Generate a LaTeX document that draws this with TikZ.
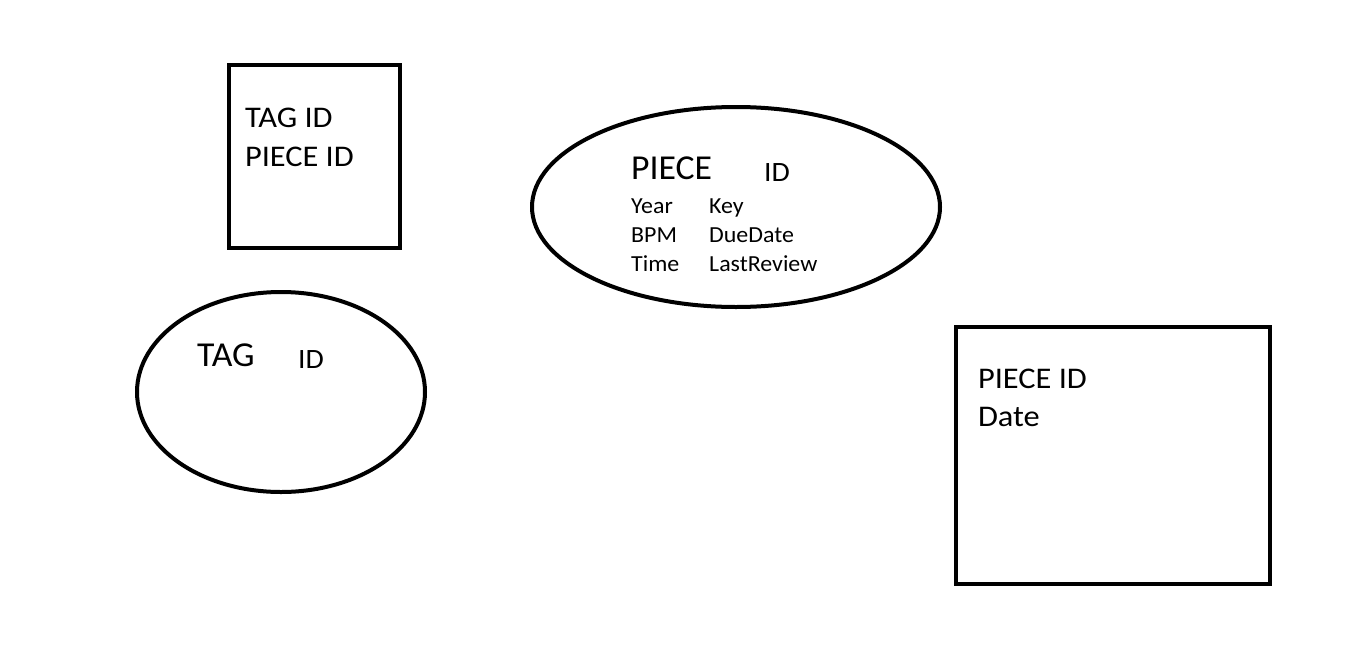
\documentclass[tikz,border=0pt]{standalone}
\usepackage{fontspec}
\setmainfont{Carlito}
\newfontfamily\fA[FakeStretch=1.08]{Carlito}
\newfontfamily\fB[FakeStretch=1.02]{Carlito}
\newfontfamily\fC[FakeStretch=1.06]{Carlito}
\newfontfamily\fD[FakeStretch=1.04]{Carlito}
\begin{document}
\begin{tikzpicture}[x=1pt,y=-1pt,
  shapeline/.style={line width=4pt,draw=black},
  txt/.style={anchor=base west,inner sep=0pt,outer sep=0pt,font=\fA\fontsize{30}{39}\selectfont},
  bigtxt/.style={anchor=base west,inner sep=0pt,font=\fB\fontsize{35}{40}\selectfont},
  midtxt/.style={anchor=base west,inner sep=0pt,font=\fC\fontsize{28}{32}\selectfont},
  smalltxt/.style={anchor=base west,inner sep=0pt,font=\fD\fontsize{23}{29}\selectfont}]
\useasboundingbox (0,0) rectangle (1357,648);
% box 1
\draw[shapeline] (229,65) rectangle (400,248);
\node[txt] (t1) at (245,127) {TAG ID};
\node[txt] (t2) at (245,166) {PIECE ID};
% ellipse piece
\draw[shapeline] (736,207) ellipse [x radius=204, y radius=100];
\node[bigtxt] (p1) at (631,179) {PIECE};
\node[midtxt] (p2) at (764,181) {ID};
\node[smalltxt] (y1) at (631,213) {Year};
\node[smalltxt] (y2) at (631,242) {BPM};
\node[smalltxt] (y3) at (631,271) {Time};
\node[smalltxt] (k1) at (709,213) {Key};
\node[smalltxt] (k2) at (709,242) {DueDate};
\node[smalltxt] (k3) at (709,271) {LastReview};
% ellipse tag
\draw[shapeline] (281,392) ellipse [x radius=144, y radius=100];
\node[bigtxt] (g1) at (197,366) {TAG};
\node[midtxt] (g2) at (298,368) {ID};
% box 2
\draw[shapeline] (956,327) rectangle (1270,584);
\node[txt] (d1) at (978,388) {PIECE ID};
\node[txt] (d2) at (978,426) {Date};
\end{tikzpicture}
\end{document}
